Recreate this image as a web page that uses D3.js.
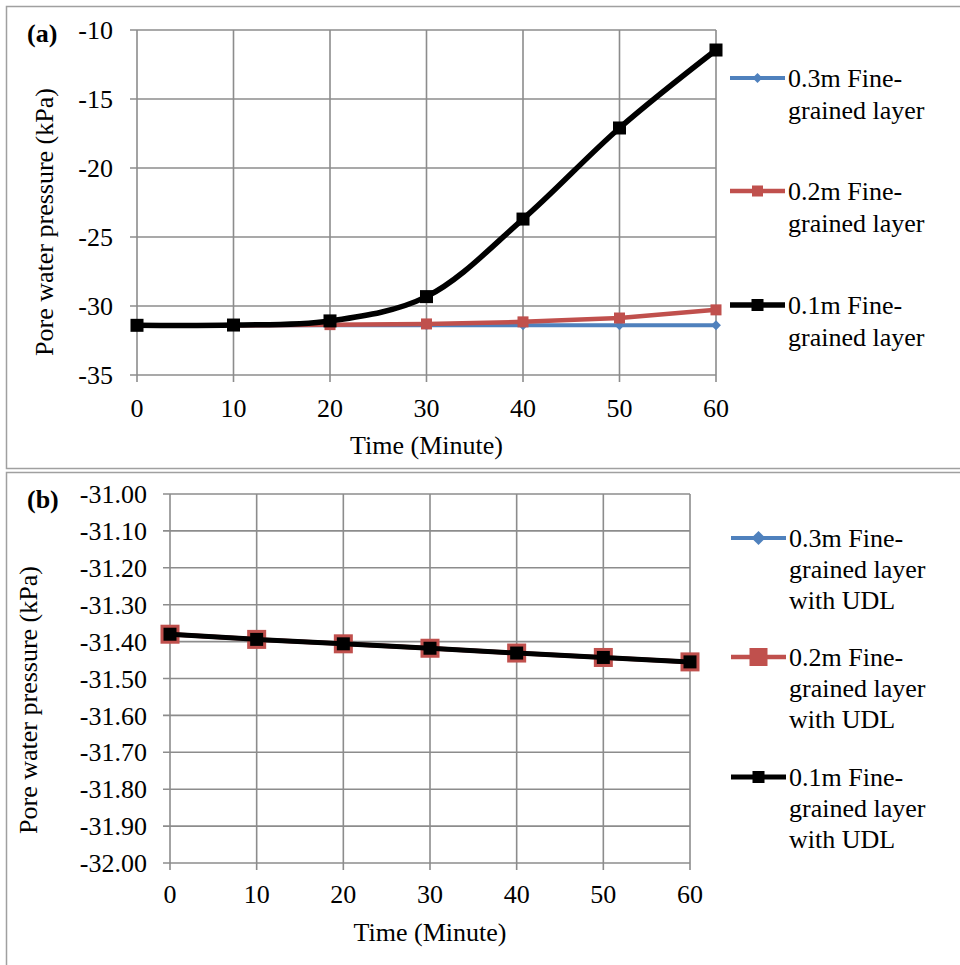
<!DOCTYPE html>
<html><head><meta charset="utf-8">
<script src="https://cdn.jsdelivr.net/npm/d3@7"></script>
<style>body{margin:0;background:#fff}svg{display:block}</style>
</head><body>
<svg id="c" width="960" height="965"></svg>
<script>
const times = [0,10,20,30,40,50,60];
// Panel (a)
const a03 = [-31.4,-31.4,-31.4,-31.4,-31.4,-31.4,-31.4];
const a02 = [-31.4,-31.4,-31.35,-31.3,-31.15,-30.87,-30.28];
const a01 = [-31.4,-31.38,-31.08,-29.32,-23.7,-17.1,-11.45];
const aYTicks = [-35,-30,-25,-20,-15,-10];
const aLegend = [["0.3m Fine-","grained layer"],["0.2m Fine-","grained layer"],["0.1m Fine-","grained layer"]];
// Panel (b)
const b03 = [-31.38,-31.394,-31.406,-31.418,-31.431,-31.443,-31.455];
const b02 = [-31.38,-31.394,-31.406,-31.418,-31.431,-31.443,-31.455];
const b01 = [-31.38,-31.394,-31.406,-31.418,-31.431,-31.443,-31.455];
const bYTicks = [-32.0,-31.9,-31.8,-31.7,-31.6,-31.5,-31.4,-31.3,-31.2,-31.1,-31.0];
const bLegend = [["0.3m Fine-","grained layer","with UDL"],["0.2m Fine-","grained layer","with UDL"],["0.1m Fine-","grained layer","with UDL"]];
const xTicks = [0,10,20,30,40,50,60];
const colors = ["#4F81BD","#C0504D","#000000"];

const svg = d3.select("#c");
const FONT = "'Liberation Serif','Times New Roman',serif";
const FS = 26;
const GRID = "#8c8c8c";

// panel borders
svg.append("rect").attr("x",6.5).attr("y",6.5).attr("width",960).attr("height",462).attr("fill","none").attr("stroke","#a0a0a0").attr("stroke-width",1.5);
svg.append("rect").attr("x",6.5).attr("y",472.5).attr("width",960).attr("height",500).attr("fill","none").attr("stroke","#a0a0a0").attr("stroke-width",1.5);

function panel(o){
  const g = svg.append("g");
  const x = d3.scaleLinear().domain([0,60]).range([o.x0,o.x1]);
  const y = d3.scaleLinear().domain(o.ydom).range([o.y1,o.y0]);
  // grid
  g.selectAll(".hg").data(o.yTicks).join("line")
    .attr("x1",o.x0-7).attr("x2",o.x1).attr("y1",d=>y(d)).attr("y2",d=>y(d))
    .attr("stroke",GRID).attr("stroke-width",1.6);
  g.selectAll(".vg").data(xTicks).join("line")
    .attr("y1",o.y0).attr("y2",o.y1+7).attr("x1",d=>x(d)).attr("x2",d=>x(d))
    .attr("stroke",GRID).attr("stroke-width",1.6);
  // tick labels
  g.selectAll(".yl").data(o.yTicks).join("text")
    .attr("x",o.ylx).attr("y",d=>y(d)).attr("dy","0.35em").attr("text-anchor","end")
    .attr("font-family",FONT).attr("font-size",FS).text(o.yfmt);
  g.selectAll(".xl").data(xTicks).join("text")
    .attr("x",d=>x(d)).attr("y",o.xly).attr("text-anchor","middle")
    .attr("font-family",FONT).attr("font-size",FS).text(d=>d);
  // titles
  g.append("text").attr("x",(o.x0+o.x1)/2).attr("y",o.xty).attr("text-anchor","middle")
    .attr("font-family",FONT).attr("font-size",FS).text("Time (Minute)");
  g.append("text").attr("transform",`translate(${o.ytx},${o.yty}) rotate(-90)`).attr("text-anchor","middle")
    .attr("font-family",FONT).attr("font-size",FS).text("Pore water pressure (kPa)");
  g.append("text").attr("x",27).attr("y",o.labY).attr("font-family",FONT).attr("font-size",FS)
    .attr("font-weight","bold").text(o.label);
  // series
  o.series.forEach((s,i)=>{
    const line = d3.line().x((d,j)=>x(times[j])).y(d=>y(d)).curve(s.curve||d3.curveLinear);
    g.append("path").datum(s.vals).attr("d",line).attr("fill","none")
      .attr("stroke",colors[i]).attr("stroke-width",s.lw).attr("stroke-linejoin","round");
    drawMarkers(g, s.vals.map((v,j)=>[x(times[j]),y(v)]), i, s.ms);
  });
  // legend
  o.legend.forEach((lines,i)=>{
    const ly = o.legY[i];
    g.append("line").attr("x1",o.legX).attr("x2",o.legX+55).attr("y1",ly).attr("y2",ly)
      .attr("stroke",colors[i]).attr("stroke-width",o.series[i].lw);
    drawMarkers(g,[[o.legX+27.5,ly]],i,o.legMs[i]);
    const t = g.append("text").attr("font-family",FONT).attr("font-size",FS);
    lines.forEach((ln,k)=>t.append("tspan").attr("x",o.legX+58).attr("y",ly+8.5+k*o.legLH).text(ln));
  });
}
function drawMarkers(g, pts, i, ms){
  if(i===0){
    g.selectAll(null).data(pts).join("path")
      .attr("d",d3.symbol(d3.symbolSquare, ms*ms))
      .attr("transform",d=>`translate(${d[0]},${d[1]}) rotate(45)`)
      .attr("fill",colors[0]);
  } else {
    g.selectAll(null).data(pts).join("rect")
      .attr("x",d=>d[0]-ms/2).attr("y",d=>d[1]-ms/2).attr("width",ms).attr("height",ms)
      .attr("fill",colors[i]);
  }
}

panel({x0:137,x1:716,y0:30,y1:375,ydom:[-35,-10],yTicks:aYTicks,yfmt:d=>d,
  ylx:113,xly:417,xty:454,ytx:53,yty:222,label:"(a)",labY:42,
  series:[{vals:a03,lw:4,ms:7},{vals:a02,lw:4.5,ms:11},{vals:a01,lw:5.5,ms:13,curve:d3.curveCatmullRom.alpha(0.5)}],
  legend:aLegend,legX:730,legY:[78,191,305],legLH:32,legMs:[7,11,12]});

panel({x0:170,x1:690,y0:494,y1:863,ydom:[-32,-31],yTicks:bYTicks,yfmt:d=>d.toFixed(2),
  ylx:147,xly:903,xty:941,ytx:37,yty:700,label:"(b)",labY:508,
  series:[{vals:b03,lw:4,ms:10},{vals:b02,lw:4.5,ms:19},{vals:b01,lw:5,ms:13}],
  legend:bLegend,legX:731,legY:[538,657,777],legLH:31,legMs:[10,18,12]});
</script>
</body></html>
